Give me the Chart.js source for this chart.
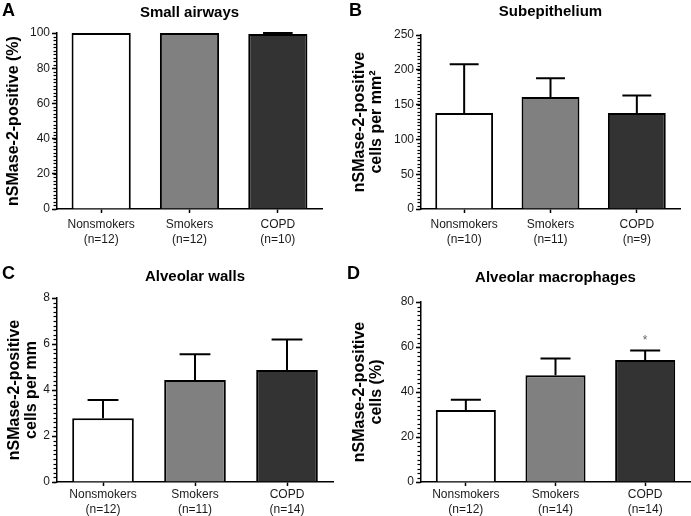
<!DOCTYPE html>
<html>
<head>
<meta charset="utf-8">
<script src="https://cdn.jsdelivr.net/npm/chart.js@4.4.0/dist/chart.umd.min.js"></script>
<style>
  body { margin: 0; background: #fff; }
  #wrap { position: relative; width: 691px; height: 516px; overflow: hidden; }
  canvas { position: absolute; }
  .letter { position: absolute; font: bold 18px "Liberation Sans", Arial, sans-serif; line-height: 18px; color: #000; }
</style>
</head>
<body>
<div id="wrap">
  <canvas id="chartA" width="345" height="258" style="left:0;top:0"></canvas>
  <canvas id="chartB" width="346" height="258" style="left:345px;top:0"></canvas>
  <canvas id="chartC" width="345" height="258" style="left:0;top:258px"></canvas>
  <canvas id="chartD" width="346" height="258" style="left:345px;top:258px"></canvas>
  <div class="letter" style="left:2px;top:1px">A</div>
  <div class="letter" style="left:349px;top:1px">B</div>
  <div class="letter" style="left:2px;top:264px">C</div>
  <div class="letter" style="left:347px;top:264px">D</div>
</div>
<script>
// Group labels (two lines each)
var catsA = [['Nonsmokers', '(n=12)'], ['Smokers', '(n=12)'], ['COPD', '(n=10)']];
var catsB = [['Nonsmokers', '(n=10)'], ['Smokers', '(n=11)'], ['COPD', '(n=9)']];
var catsC = [['Nonsmokers', '(n=12)'], ['Smokers', '(n=11)'], ['COPD', '(n=14)']];
var catsD = [['Nonsmokers', '(n=12)'], ['Smokers', '(n=14)'], ['COPD', '(n=14)']];

// Means and upper error (SEM)
var meanA = [100, 100, 99.5];
var semA = [0, 0, 0.5];
var meanB = [138, 161, 138];
var semB = [70, 27, 25];
var meanC = [2.77, 4.43, 4.87];
var semC = [0.8, 1.12, 1.33];
var meanD = [32.0, 47.5, 54.2];
var semD = [4.6, 7.4, 4.3];
var marksD = ['', '', '*'];

var barColors = ['#ffffff', '#808080', '#333333'];
var FONT = '"Liberation Sans", Arial, Helvetica, sans-serif';

var errorBarPlugin = {
    id: 'errorBars',
    afterDatasetsDraw: function(chart, args, opts) {
        var ctx = chart.ctx;
        var y = chart.scales.y;
        var meta = chart.getDatasetMeta(0);
        var values = chart.data.datasets[0].data;
        ctx.save();
        ctx.strokeStyle = '#000';
        ctx.lineWidth = 2;
        meta.data.forEach(function(bar, i) {
            var err = opts.errors[i];
            var top = y.getPixelForValue(values[i] + err);
            if (err > 0) {
                var half = bar.width / 4;
                ctx.beginPath();
                ctx.moveTo(bar.x, bar.y);
                ctx.lineTo(bar.x, top);
                ctx.moveTo(bar.x - half, top);
                ctx.lineTo(bar.x + half, top);
                ctx.stroke();
            }
            if (opts.marks && opts.marks[i]) {
                ctx.fillStyle = '#666';
                ctx.font = '12px ' + FONT;
                ctx.textAlign = 'center';
                ctx.textBaseline = 'middle';
                ctx.fillText(opts.marks[i], bar.x, top - 10);
            }
        });
        ctx.restore();
    }
};

// Dense minor ticks on the left of the value axis
var minorTickPlugin = {
    id: 'minorTicks',
    afterDraw: function(chart, args, opts) {
        var ctx = chart.ctx;
        var y = chart.scales.y;
        var x0 = chart.chartArea.left;
        var n = Math.round((y.max - y.min) / opts.step);
        ctx.save();
        ctx.strokeStyle = '#000';
        ctx.lineWidth = 1.2;
        for (var i = 0; i <= n; i++) {
            var py = Math.round(y.getPixelForValue(y.min + i * opts.step)) + 0.5;
            ctx.beginPath();
            ctx.moveTo(x0 - 3.5, py);
            ctx.lineTo(x0, py);
            ctx.stroke();
        }
        ctx.restore();
    }
};

function makeChart(id, cats, means, errs, marks, o) {
    var ctx = document.getElementById(id);
    if (!ctx) return;

    new Chart(ctx, {
        type: 'bar',
        data: {
            labels: cats,
            datasets: [{
                data: means,
                backgroundColor: barColors,
                borderColor: '#000',
                borderWidth: 2,
                borderSkipped: 'start',
                barPercentage: 0.67,
                categoryPercentage: 1
            }]
        },
        options: {
            responsive: false,
            animation: false,
            devicePixelRatio: 1,
            layout: {
                padding: { left: 0, right: o.padRight, top: 0, bottom: 0 }
            },
            plugins: {
                legend: { display: false },
                tooltip: { enabled: false },
                title: {
                    display: true,
                    text: o.title,
                    fullSize: false,
                    color: '#000',
                    font: { family: FONT, size: 15, weight: 'bold', lineHeight: 1.2 },
                    padding: { top: o.titleTop, bottom: o.titleBottom }
                },
                errorBars: { errors: errs, marks: marks },
                minorTicks: { step: o.step / 10 }
            },
            scales: {
                x: {
                    afterFit: function(scale) { scale.height = o.xHeight; },
                    border: { color: '#000', width: 1.5 },
                    grid: {
                        offset: false,
                        drawOnChartArea: false,
                        tickLength: 4,
                        tickColor: '#000',
                        tickWidth: 1.5
                    },
                    ticks: {
                        color: '#1a1a1a',
                        padding: o.xPad,
                        maxRotation: 0,
                        font: { family: FONT, size: 12, lineHeight: 1.25 }
                    }
                },
                y: {
                    min: 0,
                    max: o.max,
                    afterFit: function(scale) { scale.width = o.yWidth; },
                    border: { color: '#000', width: 1.5 },
                    grid: {
                        drawOnChartArea: false,
                        tickLength: 5,
                        tickColor: '#000',
                        tickWidth: 1.5
                    },
                    ticks: {
                        stepSize: o.step,
                        color: '#1a1a1a',
                        padding: 2,
                        font: { family: FONT, size: 12 }
                    },
                    title: {
                        display: true,
                        text: o.yTitle,
                        color: '#000',
                        font: { family: FONT, size: 16, weight: 'bold', lineHeight: 1.08 },
                        padding: { top: o.yTitleTop, bottom: 0 }
                    }
                }
            }
        },
        plugins: [errorBarPlugin, minorTickPlugin]
    });
}

makeChart('chartA', catsA, meanA, semA, null, {
    title: 'Small airways', max: 100, step: 20,
    yTitle: 'nSMase-2-positive (%)', yTitleTop: 5,
    yWidth: 57, padRight: 23, xHeight: 49, xPad: 4, titleTop: 4, titleBottom: 11
});
makeChart('chartB', catsB, meanB, semB, null, {
    title: 'Subepithelium', max: 250, step: 50,
    yTitle: ['nSMase-2-positive', 'cells per mm\u00b2'], yTitleTop: 6,
    yWidth: 76, padRight: 11, xHeight: 49, xPad: 4, titleTop: 3, titleBottom: 14
});
makeChart('chartC', catsC, meanC, semC, null, {
    title: 'Alveolar walls', max: 8, step: 2,
    yTitle: ['nSMase-2-positive', 'cells per mm'], yTitleTop: 6,
    yWidth: 57, padRight: 12, xHeight: 34, xPad: 1, titleTop: 10, titleBottom: 12
});
makeChart('chartD', catsD, meanD, semD, marksD, {
    title: 'Alveolar macrophages', max: 80, step: 20,
    yTitle: ['nSMase-2-positive', 'cells (%)'], yTitleTop: 6,
    yWidth: 76, padRight: 1, xHeight: 34, xPad: 1, titleTop: 11, titleBottom: 15
});
</script>
</body>
</html>
